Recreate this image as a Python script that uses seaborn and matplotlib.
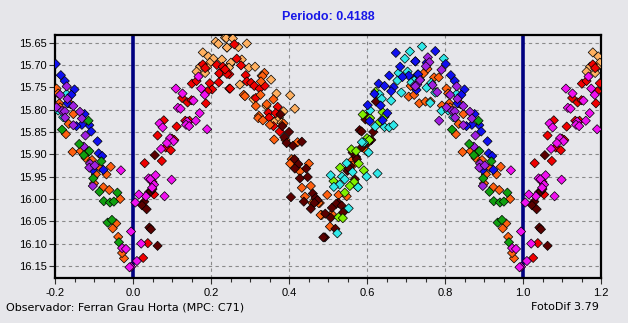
import numpy as np
import pandas as pd
import matplotlib
matplotlib.use("Agg")
import matplotlib.pyplot as plt
import seaborn as sns
from matplotlib.ticker import MultipleLocator

# ---------------- data (phase in [0,1), differential magnitude) ----------------
light_orange_phase = [0.212, 0.219, 0.236, 0.241, 0.179, 0.193, 0.206, 0.197, 0.190, 0.172, 0.163, 0.185, 0.223, 0.228, 0.249,
                      0.239, 0.256, 0.241, 0.270, 0.292, 0.251, 0.246, 0.279, 0.297, 0.313, 0.274, 0.330, 0.354, 0.368, 0.403,
                      0.415, 0.309, 0.342, 0.386, 0.364, 0.374, 0.381]
light_orange_mag = [15.648, 15.653, 15.639, 15.661, 15.672, 15.681, 15.686, 15.695, 15.705, 15.704, 15.715, 15.718, 15.719, 15.688, 15.699,
                    15.640, 15.641, 15.661, 15.660, 15.652, 15.695, 15.706, 15.688, 15.706, 15.704, 15.744, 15.724, 15.733, 15.764, 15.768,
                    15.798, 15.777, 15.792, 15.804, 15.826, 15.818, 15.829]

red_phase = [0.151, 0.163, 0.179, 0.185, 0.197, 0.203, 0.191, 0.187, 0.220, 0.215, 0.230, 0.221, 0.247, 0.126, 0.140, 0.150,
             0.134, 0.145, 0.112, 0.079, 0.063, 0.100, 0.106, 0.084, 0.097, 0.030, 0.074, 0.050, 0.054, 0.038, 0.026, 0.247,
             0.260, 0.266, 0.277, 0.241, 0.289, 0.292, 0.303, 0.311, 0.325, 0.338, 0.249, 0.315, 0.371, 0.347, 0.366, 0.349,
             0.360, 0.376, 0.236]
red_mag = [15.742, 15.736, 15.699, 15.707, 15.741, 15.755, 15.759, 15.786, 15.739, 15.700, 15.704, 15.719, 15.753, 15.774, 15.784, 15.779,
           15.825, 15.825, 15.838, 15.824, 15.858, 15.865, 15.868, 15.885, 15.891, 15.920, 15.915, 15.962, 15.990, 16.099, 16.132, 15.721,
           15.654, 15.686, 15.701, 15.720, 15.723, 15.737, 15.740, 15.747, 15.753, 15.747, 15.753, 15.774, 15.794, 15.807, 15.808, 15.818,
           15.837, 15.849, 15.710]

orange_phase = [0.337, 0.332, 0.328, 0.284, 0.287, 0.327, 0.360, 0.315, 0.343, 0.323, 0.321, 0.333, 0.351, 0.362, 0.422, 0.407,
                0.403, 0.451, 0.428, 0.433, 0.456, 0.441, 0.460, 0.479, 0.484, 0.386, 0.391,
                0.722, 0.712, 0.707, 0.599, 0.560, 0.563, 0.574, 0.548, 0.498, 0.527, 0.481, 0.510, 0.505, 0.476,
                0.755, 0.745, 0.772, 0.784, 0.722, 0.721, 0.734, 0.750, 0.763, 0.792, 0.804, 0.808, 0.811, 0.813, 0.835,
                0.840, 0.847, 0.835, 0.828, 0.845, 0.866, 0.883, 0.878, 0.895, 0.915, 0.943, 0.905, 0.932, 0.900, 0.924,
                0.939, 0.967, 0.957, 0.948, 0.962, 0.977, 0.972]
orange_mag = [15.718, 15.725, 15.737, 15.767, 15.770, 15.767, 15.777, 15.792, 15.788, 15.814, 15.819, 15.824, 15.834, 15.867, 15.873, 15.911,
              15.921, 15.921, 15.938, 15.975, 15.971, 15.995, 16.009, 16.009, 16.036, 15.831, 15.868,
              15.745, 15.747, 15.771, 15.893, 15.915, 15.925, 15.971, 15.994, 15.991, 15.991, 16.036, 16.034, 16.062, 16.009,
              15.709, 15.719, 15.728, 15.728, 15.733, 15.767, 15.786, 15.782, 15.782, 15.791, 15.753, 15.764, 15.786, 15.795, 15.785,
              15.788, 15.810, 15.832, 15.855, 15.895, 15.893, 15.895, 15.908, 15.913, 15.930, 15.928, 15.945, 15.945, 15.965, 15.974,
              15.980, 16.000, 16.055, 16.066, 16.085, 16.133, 16.121]

dark_phase = [0.056, 0.041, 0.046, 0.050, 0.029, 0.023, 0.035, 0.042, 0.046, 0.063,
              0.378, 0.383, 0.400, 0.388, 0.394, 0.410, 0.433, 0.414, 0.424, 0.415, 0.444, 0.428, 0.448, 0.405, 0.438,
              0.461, 0.468, 0.473, 0.465, 0.456, 0.492,
              0.623, 0.596, 0.601, 0.581, 0.586, 0.616, 0.611, 0.603, 0.587, 0.563, 0.572, 0.574, 0.550, 0.557, 0.553,
              0.569, 0.527, 0.521, 0.535, 0.510, 0.493, 0.507, 0.539, 0.519, 0.488]
dark_mag = [15.902, 15.985, 15.983, 15.978, 16.006, 16.014, 16.023, 16.064, 16.068, 16.105,
            15.811, 15.837, 15.850, 15.862, 15.875, 15.881, 15.872, 15.911, 15.922, 15.932, 15.932, 15.954, 15.951, 15.996, 16.006,
            15.988, 15.998, 16.003, 16.009, 16.022, 16.086,
            15.782, 15.822, 15.814, 15.846, 15.849, 15.850, 15.868, 15.874, 15.884, 15.896, 15.906, 15.911, 15.937, 15.926, 15.931,
            15.956, 16.009, 16.011, 16.015, 16.020, 16.033, 16.042, 16.030, 16.067, 16.086]

magenta_phase = [0.110, 0.127, 0.115, 0.122, 0.068, 0.076, 0.139, 0.136, 0.144, 0.161, 0.171, 0.190, 0.095, 0.104, 0.087, 0.072,
                 0.040, 0.045, 0.058, 0.054, 0.049, 0.033, 0.015, 0.081, 0.099, 0.168, 0.175, 0.184, 0.155, 0.006, 0.021,
                 0.010, 0.995, 0.995, 0.969, 0.972, 0.982, 0.991]
magenta_mag = [15.753, 15.764, 15.796, 15.798, 15.831, 15.840, 15.827, 15.834, 15.837, 15.825, 15.808, 15.844, 15.864, 15.871, 15.875, 15.888,
               15.954, 15.956, 15.947, 15.968, 15.975, 15.994, 15.990, 15.994, 15.957, 15.726, 15.753, 15.767, 15.780, 16.008, 16.100,
               16.139, 16.073, 16.152, 15.936, 16.110, 16.112, 16.153]

blue_phase = [0.674, 0.724, 0.685, 0.657, 0.707, 0.691, 0.730, 0.630, 0.645, 0.668, 0.662, 0.619, 0.635, 0.602, 0.652, 0.607, 0.640,
              0.775, 0.802, 0.724, 0.753, 0.731, 0.727, 0.815, 0.825, 0.850, 0.842, 0.832, 0.876, 0.888, 0.893, 0.869, 0.855,
              0.909, 0.912, 0.921, 0.897, 0.924]
blue_mag = [15.673, 15.692, 15.704, 15.724, 15.724, 15.727, 15.722, 15.742, 15.747, 15.750, 15.759, 15.765, 15.791, 15.790, 15.808, 15.826, 15.824,
            15.669, 15.698, 15.692, 15.695, 15.721, 15.756, 15.723, 15.736, 15.755, 15.767, 15.786, 15.810, 15.835, 15.849, 15.834, 15.837,
            15.871, 15.898, 15.904, 15.935, 15.935]

cyan_phase = [0.710, 0.697, 0.704, 0.681, 0.678, 0.714, 0.726, 0.688, 0.632, 0.638, 0.662, 0.608, 0.645, 0.657, 0.668, 0.621,
              0.592, 0.604, 0.587, 0.548, 0.563, 0.536, 0.507, 0.543, 0.530, 0.515, 0.577, 0.599, 0.627, 0.553, 0.524,
              0.741, 0.797, 0.736, 0.765, 0.775, 0.762, 0.791, 0.808, 0.821, 0.830, 0.753]
cyan_mag = [15.670, 15.686, 15.715, 15.718, 15.735, 15.739, 15.731, 15.762, 15.766, 15.776, 15.780, 15.802, 15.839, 15.840, 15.835, 15.838,
            15.874, 15.896, 15.873, 15.920, 15.940, 15.950, 15.947, 15.956, 15.968, 15.973, 15.974, 15.950, 15.943, 16.021, 16.077,
            15.659, 15.686, 15.733, 15.740, 15.762, 15.785, 15.803, 15.802, 15.817, 15.765, 15.751]

lime_phase = [0.622, 0.589, 0.608, 0.640, 0.632, 0.645, 0.600, 0.606, 0.560, 0.572, 0.531, 0.579, 0.592, 0.567, 0.556, 0.514,
              0.543, 0.527, 0.538]
lime_mag = [15.760, 15.811, 15.819, 15.806, 15.828, 15.816, 15.864, 15.868, 15.889, 15.893, 15.930, 15.921, 15.936, 15.962, 15.971, 15.960,
            15.986, 16.041, 16.043]

purple_phase = [0.722, 0.729, 0.756, 0.760, 0.751, 0.791, 0.736, 0.768, 0.724, 0.780, 0.813, 0.830, 0.832, 0.804, 0.818, 0.825,
                0.847, 0.864, 0.869, 0.847, 0.785, 0.826, 0.878, 0.874, 0.890, 0.888, 0.902, 0.897]
purple_mag = [15.746, 15.744, 15.683, 15.694, 15.703, 15.711, 15.734, 15.745, 15.748, 15.761, 15.767, 15.748, 15.776, 15.795, 15.803, 15.804,
              15.792, 15.805, 15.820, 15.835, 15.825, 15.818, 15.858, 15.883, 15.921, 15.930, 15.925, 15.971]

green_phase = [0.886, 0.818, 0.862, 0.888, 0.874, 0.919, 0.898, 0.914, 0.960, 0.925, 0.941, 0.951, 0.935, 0.946, 0.964]
green_mag = [15.825, 15.845, 15.877, 15.893, 15.902, 15.916, 15.954, 15.984, 15.986, 16.005, 16.008, 16.006, 16.053, 16.047, 16.097]

series = {
    "light_orange": (light_orange_phase, light_orange_mag),
    "red": (red_phase, red_mag),
    "orange": (orange_phase, orange_mag),
    "dark": (dark_phase, dark_mag),
    "lime": (lime_phase, lime_mag),
    "cyan": (cyan_phase, cyan_mag),
    "blue": (blue_phase, blue_mag),
    "purple": (purple_phase, purple_mag),
    "green": (green_phase, green_mag),
    "magenta": (magenta_phase, magenta_mag),
}
palette = {
    "light_orange": "#FFB060",
    "red": "#F00000",
    "orange": "#FF6010",
    "dark": "#5A0000",
    "lime": "#80F000",
    "cyan": "#30E8E8",
    "blue": "#1010F0",
    "purple": "#A020E0",
    "green": "#10A010",
    "magenta": "#F010F0",
}

rows = []
for name, (ph, mg) in series.items():
    for p, m in zip(ph, mg):
        rows.append((name, p, m))
        if p >= 0.8:
            rows.append((name, p - 1.0, m))
        if p <= 0.2:
            rows.append((name, p + 1.0, m))
df = pd.DataFrame(rows, columns=["serie", "fase", "mag"])

BG = "#E6E6EA"
fig = plt.figure(figsize=(6.28, 3.23), dpi=100, facecolor=BG)
ax = fig.add_axes([55 / 628, 1 - 278 / 323, (601 - 55) / 628, (278 - 35) / 323])
ax.set_facecolor(BG)

ax.axvline(0.0, color="#000080", lw=2.6, zorder=1)
ax.axvline(1.0, color="#000080", lw=2.6, zorder=1)

sns.scatterplot(data=df, x="fase", y="mag", hue="serie", palette=palette, marker="D",
                s=22, edgecolor="black", linewidth=0.5, legend=False, ax=ax, zorder=3)

ax.set_xlim(-0.2, 1.2)
ax.set_ylim(16.177, 15.633)
ax.xaxis.set_major_locator(MultipleLocator(0.2))
ax.xaxis.set_minor_locator(MultipleLocator(0.05))
ax.set_yticks([15.65, 15.70, 15.75, 15.80, 15.85, 15.90, 15.95, 16.00, 16.05, 16.10, 16.15])
ax.set_xticklabels([f"{v:.1f}" for v in ax.get_xticks()])
ax.set_yticklabels([f"{v:.2f}" for v in ax.get_yticks()])
ax.grid(True, which="major", color="#8A8A8A", linestyle=(0, (3, 3)), linewidth=0.8, zorder=0)
ax.set_axisbelow(True)
ax.tick_params(axis="x", which="major", length=4, width=0.8, pad=3, labelsize=8, colors="#303030")
ax.tick_params(axis="x", which="minor", length=3, width=0.8, colors="#303030")
ax.tick_params(axis="y", which="major", length=4, width=0.8, pad=2, labelsize=8, colors="#303030")
for lab in ax.get_xticklabels() + ax.get_yticklabels():
    lab.set_color("black")
    lab.set_fontfamily("Liberation Sans")
for sp in ax.spines.values():
    sp.set_linewidth(1.6)
    sp.set_color("black")
ax.set_xlabel("")
ax.set_ylabel("")

fig.text(328 / 628, 1 - 17 / 323, "Periodo: 0.4188", ha="center", va="center",
         color="#1818E8", fontsize=9, fontweight="bold", family="Liberation Sans")
fig.text(6 / 628, 1 - 307 / 323, "Observador: Ferran Grau Horta (MPC: C71)", ha="left", va="center",
         fontsize=8, color="black")
fig.text(599 / 628, 1 - 307 / 323, "FotoDif 3.79", ha="right", va="center", fontsize=8, color="black")

fig.savefig("out.png", dpi=100, facecolor=BG)
